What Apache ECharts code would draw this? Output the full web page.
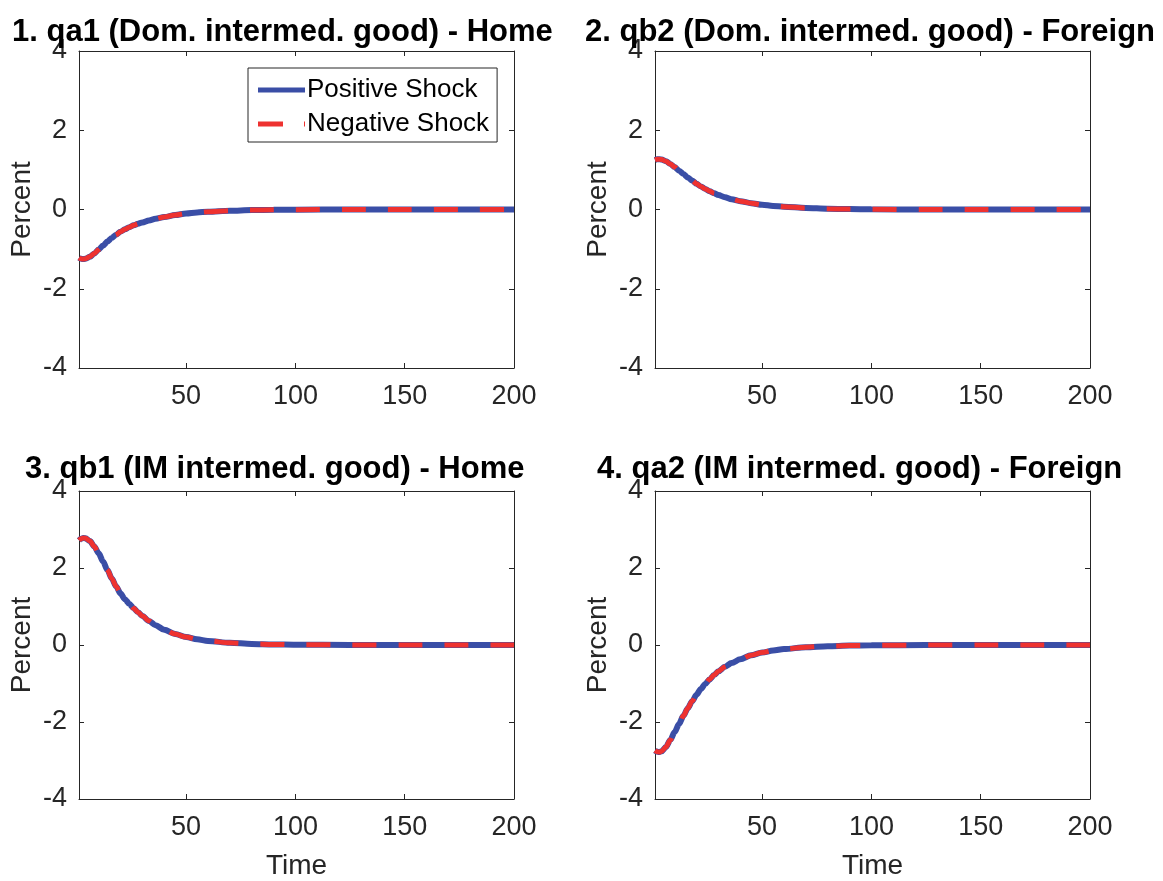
<!DOCTYPE html>
<html>
<head>
<meta charset="utf-8">
<title>Impulse responses: intermediate goods</title>
<script src="https://cdn.jsdelivr.net/npm/echarts@6/dist/echarts.min.js"></script>
<style>
  html, body { margin: 0; padding: 0; background: #ffffff; }
  #chart { width: 1163px; height: 881px; }
</style>
</head>
<body>
<div id="chart"></div>
<script>
// Periods after the shock at which the responses are given (percent deviations)
const periods = [1, 2, 3, 4, 6, 8, 10, 12, 14, 16, 18, 20, 22, 24, 26, 28, 30, 33, 36, 40, 45, 50, 55, 60, 70, 80, 90, 100, 125, 150, 175, 200];

// 1. qa1 (domestic intermediate good) - Home
const qa1Positive = [-1.22, -1.245, -1.25, -1.24, -1.19, -1.11, -1.01, -0.91, -0.81, -0.72, -0.635, -0.56, -0.50, -0.445, -0.40, -0.36, -0.325, -0.275, -0.235, -0.19, -0.14, -0.10, -0.075, -0.055, -0.03, -0.015, -0.008, -0.004, 0, 0, 0, 0];
const qa1Negative = [-1.22, -1.245, -1.25, -1.24, -1.19, -1.11, -1.01, -0.91, -0.81, -0.72, -0.635, -0.56, -0.50, -0.445, -0.40, -0.36, -0.325, -0.275, -0.235, -0.19, -0.14, -0.10, -0.075, -0.055, -0.03, -0.015, -0.008, -0.004, 0, 0, 0, 0];

// 2. qb2 (domestic intermediate good) - Foreign
const qb2Positive = [1.25, 1.265, 1.27, 1.26, 1.22, 1.15, 1.07, 0.98, 0.895, 0.81, 0.73, 0.65, 0.58, 0.52, 0.46, 0.41, 0.365, 0.31, 0.26, 0.21, 0.16, 0.12, 0.09, 0.07, 0.04, 0.02, 0.01, 0.005, 0, 0, 0, 0];
const qb2Negative = [1.25, 1.265, 1.27, 1.26, 1.22, 1.15, 1.07, 0.98, 0.895, 0.81, 0.73, 0.65, 0.58, 0.52, 0.46, 0.41, 0.365, 0.31, 0.26, 0.21, 0.16, 0.12, 0.09, 0.07, 0.04, 0.02, 0.01, 0.005, 0, 0, 0, 0];

// 3. qb1 (imported intermediate good) - Home
const qb1Positive = [2.72, 2.76, 2.78, 2.77, 2.70, 2.56, 2.38, 2.17, 1.95, 1.73, 1.52, 1.34, 1.19, 1.07, 0.955, 0.85, 0.755, 0.625, 0.515, 0.395, 0.285, 0.205, 0.148, 0.107, 0.056, 0.029, 0.015, 0.008, 0.002, 0, 0, 0];
const qb1Negative = [2.72, 2.76, 2.78, 2.77, 2.70, 2.56, 2.38, 2.17, 1.95, 1.73, 1.52, 1.34, 1.19, 1.07, 0.955, 0.85, 0.755, 0.625, 0.515, 0.395, 0.285, 0.205, 0.148, 0.107, 0.056, 0.029, 0.015, 0.008, 0.002, 0, 0, 0];

// 4. qa2 (imported intermediate good) - Foreign
const qa2Positive = [-2.74, -2.77, -2.78, -2.76, -2.65, -2.47, -2.26, -2.05, -1.84, -1.64, -1.46, -1.29, -1.14, -1.01, -0.89, -0.78, -0.685, -0.565, -0.47, -0.37, -0.265, -0.195, -0.145, -0.105, -0.057, -0.03, -0.016, -0.008, -0.002, 0, 0, 0];
const qa2Negative = [-2.74, -2.77, -2.78, -2.76, -2.65, -2.47, -2.26, -2.05, -1.84, -1.64, -1.46, -1.29, -1.14, -1.01, -0.89, -0.78, -0.685, -0.565, -0.47, -0.37, -0.265, -0.195, -0.145, -0.105, -0.057, -0.03, -0.016, -0.008, -0.002, 0, 0, 0];

const panelTitles = [
  '1. qa1 (Dom. intermed. good) - Home',
  '2. qb2 (Dom. intermed. good) - Foreign',
  '3. qb1 (IM intermed. good) - Home',
  '4. qa2 (IM intermed. good) - Foreign'
];
const seriesNames = ['Positive Shock', 'Negative Shock'];
const xTicks = [50, 100, 150, 200];
const yMin = -4, yMax = 4, yStep = 2;
const xName = 'Time';
const yName = 'Percent';

const positiveSets = [qa1Positive, qb2Positive, qb1Positive, qa2Positive];
const negativeSets = [qa1Negative, qb2Negative, qb1Negative, qa2Negative];

const FONT = "'Liberation Sans', Arial, Helvetica, sans-serif";
const AXIS_COLOR = '#262626';
const BLUE = '#3a4ea6';
const RED = '#ee3230';

// panel frames: [left, top, width, height]
const frames = [
  [79, 51, 435, 317],
  [655, 51, 435, 317],
  [79, 491, 435, 322],
  [655, 491, 435, 322]
];
const titlePos = [[12, 17], [585, 17], [25, 454], [597, 454]];

const chart = echarts.init(document.getElementById('chart'), null, { renderer: 'canvas' });

const grids = [], xAxes = [], yAxes = [], series = [], titles = [];

frames.forEach((f, i) => {
  grids.push({ left: f[0], top: f[1], width: f[2], height: f[3], containLabel: false, show: false });
  titles.push({
    text: panelTitles[i], left: titlePos[i][0], top: titlePos[i][1], padding: 0,
    textStyle: { fontFamily: FONT, fontSize: 31, fontWeight: 'bold', color: '#000' }
  });
  const bottomRow = i >= 2;
  const lineStyle = { color: AXIS_COLOR, width: 1 };
  // bottom x axis with labels
  xAxes.push({
    type: 'value', gridIndex: i, position: 'bottom', min: 1, max: 200,
    name: bottomRow ? xName : '', nameLocation: 'middle', nameGap: 53,
    nameTextStyle: { fontFamily: FONT, fontSize: 28, color: AXIS_COLOR },
    axisLine: { show: true, onZero: false, lineStyle },
    axisTick: { show: true, inside: true, length: 5, customValues: xTicks, lineStyle },
    axisLabel: { show: true, customValues: xTicks, margin: 15, fontFamily: FONT, fontSize: 27, color: AXIS_COLOR },
    splitLine: { show: false }
  });
  // top x axis (box edge with ticks)
  xAxes.push({
    type: 'value', gridIndex: i, position: 'top', min: 1, max: 200,
    axisLine: { show: true, onZero: false, lineStyle },
    axisTick: { show: true, inside: true, length: 5, customValues: xTicks, lineStyle },
    axisLabel: { show: false },
    splitLine: { show: false }
  });
  yAxes.push({
    type: 'value', gridIndex: i, position: 'left', min: yMin, max: yMax, interval: yStep,
    name: yName, nameLocation: 'middle', nameGap: 43, nameRotate: 90,
    nameTextStyle: { fontFamily: FONT, fontSize: 28, color: AXIS_COLOR },
    axisLine: { show: true, onZero: false, lineStyle },
    axisTick: { show: true, inside: true, length: 5, lineStyle },
    axisLabel: { show: true, margin: 12, fontFamily: FONT, fontSize: 27, color: AXIS_COLOR,
      formatter: v => String(v) },
    splitLine: { show: false }
  });
  yAxes.push({
    type: 'value', gridIndex: i, position: 'right', min: yMin, max: yMax, interval: yStep,
    axisLine: { show: true, onZero: false, lineStyle },
    axisTick: { show: true, inside: true, length: 5, lineStyle },
    axisLabel: { show: false },
    splitLine: { show: false }
  });

  const pos = periods.map((t, k) => [t, positiveSets[i][k]]);
  const neg = periods.map((t, k) => [t, negativeSets[i][k]]);
  series.push({
    name: seriesNames[0], type: 'line', xAxisIndex: 2 * i, yAxisIndex: 2 * i,
    data: pos, smooth: 0.3, smoothMonotone: 'x', symbol: 'none', showSymbol: false, z: 2,
    lineStyle: { color: BLUE, width: 6, type: 'solid' }, itemStyle: { color: BLUE }
  });
  series.push({
    name: seriesNames[1], type: 'line', xAxisIndex: 2 * i, yAxisIndex: 2 * i,
    data: neg, smooth: 0.3, smoothMonotone: 'x', symbol: 'none', showSymbol: false, z: 3,
    lineStyle: { color: RED, width: 5, type: [24, 22] }, itemStyle: { color: RED }
  });
});

chart.setOption({
  animation: false,
  backgroundColor: '#ffffff',
  title: titles,
  legend: {
    data: [
      { name: seriesNames[0], icon: 'path://M0,0H47V5H0Z', itemStyle: { color: BLUE } },
      { name: seriesNames[1], icon: 'path://M0,0H25V5H0Z M46,0H47V5H46Z', itemStyle: { color: RED } }
    ],
    orient: 'vertical', left: 248, top: 68,
    backgroundColor: '#ffffff', borderColor: AXIS_COLOR, borderWidth: 1, borderRadius: 0,
    padding: [9, 8, 5, 10], itemGap: 8, itemWidth: 47, itemHeight: 5,
    textStyle: { fontFamily: FONT, fontSize: 26, color: '#000', padding: [0, 0, 0, -3] }
  },
  grid: grids,
  xAxis: xAxes,
  yAxis: yAxes,
  series: series
});
</script>
</body>
</html>
